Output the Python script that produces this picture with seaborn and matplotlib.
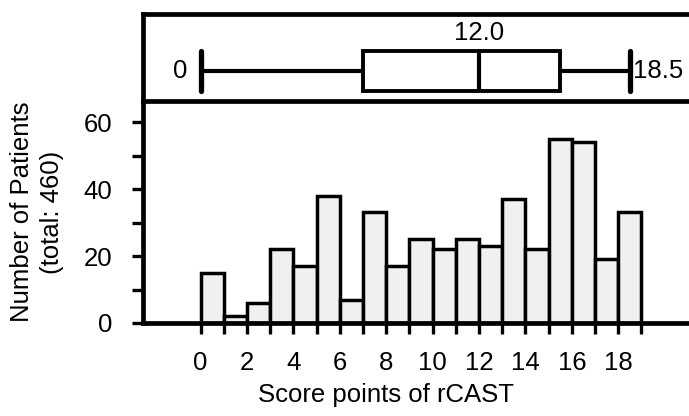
import numpy as np
import pandas as pd
import matplotlib.pyplot as plt
import seaborn as sns

score_points = list(range(19))
n_patients = [15, 2, 6, 22, 17, 38, 7, 33, 17, 25, 22, 25, 23, 37, 22, 55, 54, 19, 33]

box_min = 0
box_q1 = 7
box_median = 12.0
box_q3 = 15.5
box_max = 18.5

df = pd.DataFrame({"score": score_points, "patients": n_patients})

sns.set_theme(style="ticks")
plt.rcParams["font.family"] = ["Liberation Sans", "DejaVu Sans"]
plt.rcParams["text.color"] = "black"
plt.rcParams["axes.labelcolor"] = "black"
fs = 18.5

fig = plt.figure(figsize=(6.89, 4.16), dpi=100)
ax_hist = fig.add_axes([0.2075, 0.2236, 0.80, 0.5336])
ax_box = fig.add_axes([0.2075, 0.7572, 0.80, 0.2091])
ax_hist.patch.set_visible(False)

xlim = (-2.48, 21.27)

# histogram
sns.histplot(data=df, x="score", weights="patients", bins=list(range(20)),
             color="#f0f0f0", edgecolor="black", linewidth=2.5, alpha=1,
             ax=ax_hist)
ax_hist.set_xlim(*xlim)
ax_hist.set_ylim(0, 66.3)
ax_hist.set_xticks(range(0, 19, 2))
ax_hist.set_xticks(range(1, 20, 2), minor=True)
ax_hist.set_yticks([0, 20, 40, 60])
ax_hist.set_yticks([10, 30, 50], minor=True)
ax_hist.tick_params(axis="both", which="both", width=2.4, length=8, color="black",
                    labelsize=fs, labelcolor="black")
ax_hist.tick_params(axis="x", pad=12)
ax_hist.tick_params(axis="y", pad=14)
ax_hist.set_xlabel("Score points of rCAST", fontsize=fs, labelpad=6)
ax_hist.xaxis.set_label_coords(0.441, -0.27)
ax_hist.set_ylabel("Number of Patients\n(total: 460)", fontsize=fs, labelpad=14,
                   linespacing=1.35)
sns.despine(ax=ax_hist, top=True, right=True)
for s in ["left", "bottom"]:
    ax_hist.spines[s].set_linewidth(3.4)
    ax_hist.spines[s].set_color("black")

# boxplot on top
stats = [{"whislo": box_min, "q1": box_q1, "med": box_median,
          "q3": box_q3, "whishi": box_max, "fliers": []}]
ax_box.bxp(stats, positions=[0.34], widths=0.46, capwidths=0.46,
           vert=False, showfliers=False, patch_artist=True,
           boxprops=dict(facecolor="white", edgecolor="black", linewidth=2.8),
           medianprops=dict(color="black", linewidth=3),
           whiskerprops=dict(color="black", linewidth=3),
           capprops=dict(color="black", linewidth=3.8))
ax_box.set_xlim(*xlim)
ax_box.set_ylim(0, 1)
ax_box.set_xticks([])
ax_box.set_yticks([])
for s in ["left", "top", "bottom", "right"]:
    ax_box.spines[s].set_linewidth(3.4)
    ax_box.spines[s].set_color("black")
ax_box.text(box_min - 0.55, 0.34, f"{box_min}", ha="right", va="center", fontsize=fs)
ax_box.text(box_max + 0.12, 0.34, f"{box_max}", ha="left", va="center", fontsize=fs)
ax_box.text(box_median, 0.64, f"{box_median:.1f}", ha="center", va="bottom", fontsize=fs)

fig.savefig("out.png", dpi=100)
